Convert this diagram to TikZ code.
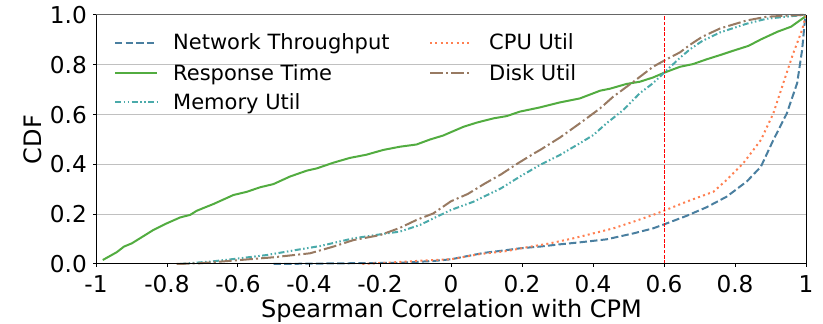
\documentclass[tikz,border=0pt]{standalone}
\usepackage{fontspec}
\setmainfont{DejaVu Sans}
\definecolor{netblue}{HTML}{4A7FA0}
\definecolor{respgreen}{HTML}{52AC40}
\definecolor{memteal}{HTML}{4AAAAA}
\definecolor{cpuorange}{HTML}{FF7F50}
\definecolor{diskbrown}{HTML}{987A62}
\definecolor{gridgray}{HTML}{C0C0C0}
\tikzset{
  curve/.style={line width=2pt, line join=round},
  netline/.style={curve, netblue, dash pattern=on 7.4pt off 3.2pt},
  respline/.style={curve, respgreen},
  memline/.style={curve, memteal, dash pattern=on 6pt off 2.5pt on 1.5pt off 2.5pt on 1.5pt off 2.5pt},
  cpuline/.style={curve, cpuorange, dash pattern=on 2pt off 3.3pt},
  diskline/.style={curve, diskbrown, dash pattern=on 12.8pt off 3.2pt on 2pt off 3.2pt},
  gridline/.style={gridgray, line width=1pt},
  thresh/.style={red, line width=1pt, dash pattern=on 3.7pt off 1.6pt},
  ticklab/.style={inner sep=0pt, font=\fontsize{23.2}{27}\selectfont},
  axislab/.style={inner sep=0pt, font=\fontsize{24}{28}\selectfont},
  legtext/.style={inner sep=0pt, anchor=base west, font=\fontsize{21}{24}\selectfont},
}
\begin{document}
\begin{tikzpicture}[x=1pt,y=1pt]
\useasboundingbox (0,0) rectangle (823,324);
\begin{scope}[shift={(451,60)}, x=355pt, y=249pt]
  % horizontal grid
  \foreach \v in {0.2,0.4,0.6,0.8}
    \draw[gridline] (-1,\v) -- (1,\v);
  % CDF curves
  \draw[netline] plot coordinates {(-0.5,0) (-0.144,0.005) (-0.05,0.012) (0,0.019) (0.047,0.032) (0.094,0.045) (0.141,0.053) (0.194,0.063) (0.251,0.07) (0.307,0.079) (0.363,0.087) (0.438,0.099) (0.514,0.123) (0.569,0.143) (0.6,0.159) (0.663,0.193) (0.72,0.228) (0.776,0.27) (0.833,0.331) (0.873,0.391) (0.908,0.498) (0.946,0.605) (0.975,0.726) (0.989,0.859) (0.997,0.98) (1,1)};
  \draw[respline] plot coordinates {(-0.981,0.016) (-0.942,0.047) (-0.921,0.070) (-0.899,0.083) (-0.838,0.137) (-0.801,0.163) (-0.763,0.187) (-0.735,0.197) (-0.716,0.214) (-0.669,0.241) (-0.613,0.277) (-0.575,0.290) (-0.538,0.308) (-0.500,0.321) (-0.454,0.351) (-0.406,0.375) (-0.378,0.384) (-0.331,0.407) (-0.285,0.426) (-0.238,0.439) (-0.191,0.458) (-0.144,0.471) (-0.097,0.480) (-0.059,0.500) (-0.022,0.516) (0.035,0.551) (0.073,0.568) (0.120,0.585) (0.157,0.594) (0.194,0.612) (0.251,0.629) (0.307,0.649) (0.363,0.665) (0.420,0.696) (0.448,0.704) (0.494,0.723) (0.532,0.732) (0.569,0.749) (0.600,0.768) (0.645,0.792) (0.682,0.803) (0.720,0.822) (0.758,0.839) (0.796,0.857) (0.838,0.876) (0.873,0.902) (0.920,0.933) (0.958,0.953) (1.0,0.996)};
  \draw[memline] plot coordinates {(-0.763,0) (-0.669,0.011) (-0.594,0.023) (-0.519,0.036) (-0.425,0.059) (-0.369,0.072) (-0.275,0.103) (-0.181,0.123) (-0.144,0.13) (-0.087,0.157) (-0.050,0.183) (0,0.217) (0.063,0.25) (0.141,0.304) (0.194,0.351) (0.251,0.398) (0.307,0.438) (0.363,0.485) (0.401,0.518) (0.438,0.565) (0.485,0.618) (0.532,0.686) (0.569,0.726) (0.600,0.768) (0.645,0.828) (0.673,0.862) (0.707,0.895) (0.758,0.930) (0.833,0.965) (0.889,0.985) (0.964,0.996) (1,1)};
  \draw[cpuline] plot coordinates {(-0.25,0) (-0.181,0.005) (-0.087,0.013) (0,0.019) (0.082,0.04) (0.157,0.052) (0.213,0.067) (0.279,0.083) (0.344,0.103) (0.401,0.123) (0.457,0.143) (0.514,0.17) (0.569,0.197) (0.6,0.214) (0.663,0.25) (0.739,0.29) (0.776,0.337) (0.823,0.404) (0.873,0.498) (0.908,0.605) (0.936,0.726) (0.964,0.846) (0.989,0.94) (1,1)};
  \draw[diskline] plot coordinates {(-0.773,0) (-0.707,0.003) (-0.594,0.016) (-0.500,0.027) (-0.397,0.043) (-0.331,0.070) (-0.275,0.096) (-0.200,0.116) (-0.144,0.145) (-0.097,0.177) (-0.050,0.203) (0.000,0.252) (0.047,0.281) (0.094,0.322) (0.141,0.360) (0.188,0.404) (0.235,0.445) (0.251,0.458) (0.307,0.508) (0.363,0.565) (0.420,0.625) (0.457,0.672) (0.514,0.732) (0.569,0.792) (0.607,0.822) (0.645,0.850) (0.673,0.880) (0.707,0.912) (0.758,0.946) (0.833,0.978) (0.889,0.993) (0.983,1.0) (1,1)};
  % threshold marker at 0.6
  \coordinate (thrlo) at (0.6,0);
  \coordinate (thrhi) at (0.6,1);
  \draw[thresh] (thrlo) -- (thrhi);
  % axes frame
  \draw[black!60, line width=1pt] (-1,1) -- (1,1);
  \draw[black, line width=1pt] (-1,1) -- (-1,0) -- (1,0) -- (1,1);
  % x ticks
  \foreach \v/\l [count=\i] in {-1/-1,-0.8/-0.8,-0.6/-0.6,-0.4/-0.4,-0.2/-0.2,0/0,0.2/0.2,0.4/0.4,0.6/0.6,0.8/0.8,1/1} {
    \draw[line width=1pt] (\v,0) -- ++(0,-3.5pt);
    \node[ticklab, anchor=north] (xt\i) at ([yshift=-11pt]\v,0) {\l};
  }
  % y ticks
  \foreach \v/\l [count=\i] in {0/0.0,0.2/0.2,0.4/0.4,0.6/0.6,0.8/0.8,1/1.0} {
    \draw[line width=1pt] (-1,\v) -- ++(-3.5pt,0);
    \node[ticklab, anchor=east] (yt\i) at ([xshift=-9pt]-1,\v) {\l};
  }
\end{scope}
% axis labels
\node[axislab, anchor=base] (xlab) at (451.5,6.2) {Spearman Correlation with CPM};
\node[axislab, rotate=90] (ylab) at (32.5,184.5) {CDF};
% legend
\draw[netline]  (115,281) coordinate (lg1a) -- (157,281) coordinate (lg1b);
\node[legtext] (lt1) at (173,274) {Network Throughput};
\draw[respline] (115,251) coordinate (lg2a) -- (157,251) coordinate (lg2b);
\node[legtext] (lt2) at (173,243.5) {Response Time};
\draw[memline]  (115,221.5) coordinate (lg3a) -- (157,221.5) coordinate (lg3b);
\node[legtext] (lt3) at (173,214) {Memory Util};
\draw[cpuline]  (430,281) coordinate (lg4a) -- (472,281) coordinate (lg4b);
\node[legtext] (lt4) at (489,274) {CPU Util};
\draw[diskline] (430,251) coordinate (lg5a) -- (472,251) coordinate (lg5b);
\node[legtext] (lt5) at (489,243.5) {Disk Util};
\end{tikzpicture}
\end{document}
